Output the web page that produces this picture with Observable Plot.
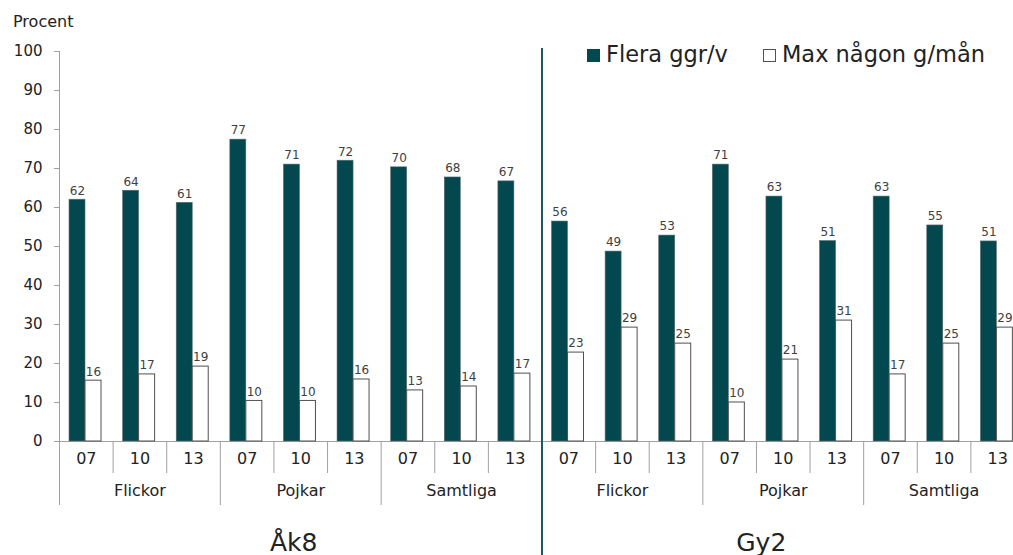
<!DOCTYPE html>
<html><head><meta charset="utf-8">
<script src="https://cdn.jsdelivr.net/npm/d3@7"></script>
<script src="https://cdn.jsdelivr.net/npm/@observablehq/plot@0.6"></script>
<style>
body{margin:0;background:#fff;font-family:"DejaVu Sans",sans-serif;}
#wrap{position:relative;width:1013px;height:555px;overflow:hidden;background:#fff}
#wrap svg{position:absolute;left:0;top:0}
.ov{position:absolute;white-space:nowrap;color:#222;line-height:1}
.sw{display:inline-block;width:13px;height:13px;margin-right:6px;vertical-align:0px;box-sizing:border-box}
g[aria-label="y-axis"] line, g[aria-label="y-axis tick"]{stroke:#a0a0a0}
</style></head>
<body><div id="wrap"></div>
<script>
const levels = ["Åk8", "Gy2"];
const genders = ["Flickor", "Pojkar", "Samtliga"];
const years = ["07", "10", "13"];
const seriesNames = ["Flera ggr/v", "Max någon g/mån"];
// order: level > gender > year
const fleraValues = [62.0, 64.3, 61.2, 77.4, 71.0, 72.0, 70.3, 67.7, 66.7,
                     56.4, 48.7, 52.8, 71.0, 62.8, 51.4, 62.8, 55.4, 51.3];
const maxValues   = [15.6, 17.2, 19.2, 10.4, 10.4, 15.9, 13.1, 14.1, 17.4,
                     22.8, 29.2, 25.1, 10.0, 21.0, 31.0, 17.2, 25.1, 29.2];
const yTicks = [0, 10, 20, 30, 40, 50, 60, 70, 80, 90, 100];

const groups = [];
levels.forEach(l => genders.forEach(g => years.forEach(y => groups.push({level: l, gender: g, year: y, key: `${l}|${g}|${y}`}))));
const rows = [];
groups.forEach((g, i) => {
  rows.push({...g, series: seriesNames[0], value: fleraValues[i]});
  rows.push({...g, series: seriesNames[1], value: maxValues[i]});
});

const W = 1013, H = 555, mT = 51, mB = 114, mL = 59, xEnd = 1024;
const step = (xEnd - mL) / groups.length;
const frameH = H - mT - mB;
const dark = "#03474f";
const grid = "#a0a0a0";
const fmt = d3.format(".0f");

const chart = Plot.plot({
  width: W, height: H,
  marginTop: mT, marginBottom: mB, marginLeft: mL, marginRight: 0,
  style: {fontFamily: "DejaVu Sans", fontSize: "15px", color: "#222", background: "#fff"},
  x: {type: "band", domain: groups.map(d => d.key), range: [mL, xEnd], padding: 0, round: false, axis: null},
  y: {domain: [0, 100], ticks: yTicks, tickSize: 5, tickPadding: 12, label: null},
  marks: [
    Plot.ruleY([0], {stroke: grid}),
    Plot.ruleX(groups.filter(d => d.year !== "07"), {x: "key", dx: -step / 2, stroke: grid, insetTop: frameH, insetBottom: -32}),
    Plot.ruleX(groups.filter(d => d.year === "07"), {x: "key", dx: -step / 2, stroke: grid, insetTop: frameH, insetBottom: -64}),
    Plot.ruleX(groups.slice(0, 1), {x: "key", dx: -step / 2, stroke: grid}),
    Plot.barY(rows.filter(d => d.series === seriesNames[0]), {x: "key", y: "value", fill: dark, stroke: "#5a6e70", strokeWidth: 0.6, insetLeft: 10, insetRight: step - 26}),
    Plot.barY(rows.filter(d => d.series === seriesNames[1]), {x: "key", y: "value", fill: "#fff", stroke: "#505050", strokeWidth: 1, insetLeft: 26, insetRight: step - 42}),
    Plot.text(rows.filter(d => d.series === seriesNames[0]), {x: "key", y: "value", text: d => fmt(d.value), dx: 18 - step / 2, dy: -9, fontSize: 12, fill: "#404040"}),
    Plot.text(rows.filter(d => d.series === seriesNames[1]), {x: "key", y: "value", text: d => fmt(d.value), dx: 34 - step / 2, dy: -9, fontSize: 12, fill: "#404040"}),
    Plot.text(groups, {x: "key", text: "year", frameAnchor: "bottom", dy: 22, fontSize: 16, fill: "#222"}),
    Plot.text(groups.filter(d => d.year === "10"), {x: "key", text: "gender", frameAnchor: "bottom", dy: 54, fontSize: 16, fill: "#222"}),
    Plot.text(groups.filter(d => d.level === levels[0] && d.gender === "Pojkar" && d.year === "10"), {x: "key", text: "level", frameAnchor: "bottom", dy: 109, dx: -7, fontSize: 25, fill: "#222"}),
    Plot.text(groups.filter(d => d.level === levels[1] && d.gender === "Pojkar" && d.year === "10"), {x: "key", text: "level", frameAnchor: "bottom", dy: 109, dx: -22, fontSize: 25, fill: "#222"}),
    Plot.ruleX(groups.filter(d => d.level === levels[1] && d.gender === "Flickor" && d.year === "07"), {x: "key", dx: -step / 2, stroke: "#1d5a60", strokeWidth: 2, insetTop: -3, insetBottom: -120})
  ]
});

const wrap = document.getElementById("wrap");
wrap.appendChild(chart);

const proc = document.createElement("div");
proc.className = "ov";
proc.style.cssText = "left:13px;top:14px;font-size:16px;";
proc.textContent = "Procent";
wrap.appendChild(proc);

const leg = document.createElement("div");
leg.className = "ov";
leg.style.cssText = "left:587px;top:43px;font-size:22.5px;";
leg.innerHTML = `<span class="sw" style="background:${dark}"></span>${seriesNames[0]}<span style="display:inline-block;width:35px"></span><span class="sw" style="background:#fff;border:1px solid #505050"></span>${seriesNames[1]}`;
wrap.appendChild(leg);
</script>
</body></html>
